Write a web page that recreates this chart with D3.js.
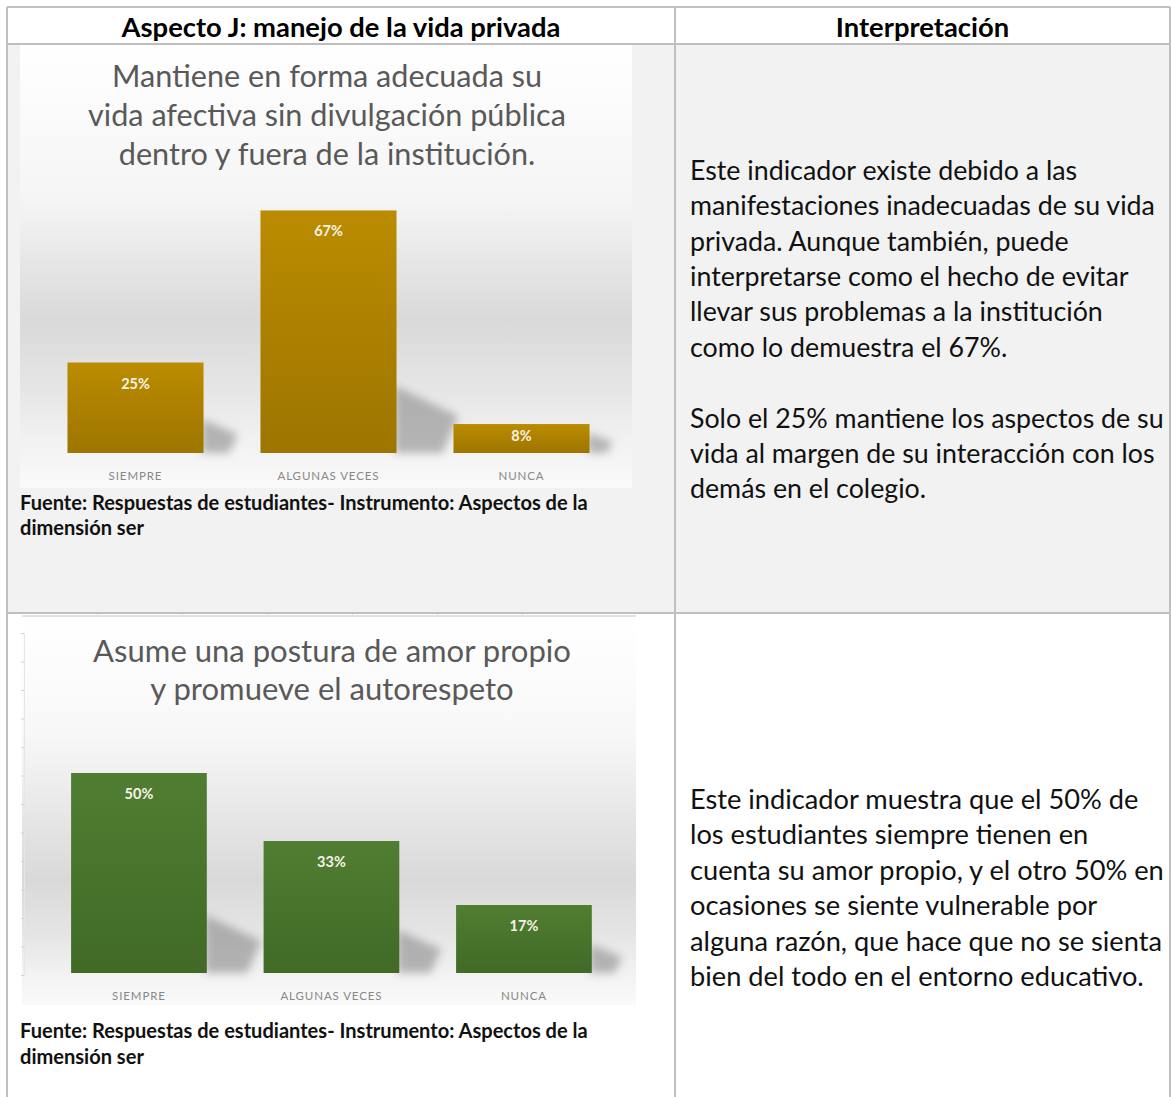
<!DOCTYPE html>
<html>
<head>
<meta charset="utf-8">
<script src="https://cdn.jsdelivr.net/npm/d3@7"></script>
<style>
  body { margin: 0; background: #fff; }
  svg text { font-family: Lato, "Open Sans", sans-serif; }
</style>
</head>
<body>
<svg id="page"></svg>
<script>
// ---- data ----
const categories = ["SIEMPRE", "ALGUNAS VECES", "NUNCA"];
const privacyValues = [25, 67, 8];
const selfLoveValues = [50, 33, 17];

const headerLabels = ["Aspecto J: manejo de la vida privada", "Interpretación"];
const privacyTitle = [
  "Mantiene en forma adecuada su",
  "vida afectiva sin divulgación pública",
  "dentro y fuera de la institución."
];
const selfLoveTitle = ["Asume una postura de amor propio", "y promueve el autorespeto"];
const sourceLines = [
  "Fuente: Respuestas de estudiantes- Instrumento: Aspectos de la",
  "dimensión ser"
];
const privacyText = [
  "Este indicador existe debido a las",
  "manifestaciones inadecuadas de su vida",
  "privada. Aunque también, puede",
  "interpretarse como el hecho de evitar",
  "llevar sus problemas a la institución",
  "como lo demuestra el 67%.",
  "",
  "Solo el 25% mantiene los aspectos de su",
  "vida al margen de su interacción con los",
  "demás en el colegio."
];
const selfLoveText = [
  "Este indicador muestra que el 50% de",
  "los estudiantes siempre tienen en",
  "cuenta su amor propio, y el otro 50% en",
  "ocasiones se siente vulnerable por",
  "alguna razón, que hace que no se sienta",
  "bien del todo en el entorno educativo."
];

const W = 1171, H = 1097;
const svg = d3.select("#page").attr("width", W).attr("height", H);
const defs = svg.append("defs");

// font size so that the widest of the strings gets the target width
function fitSize(strs, weight, target) {
  let widest = 0;
  [].concat(strs).forEach(s => {
    const t = svg.append("text").attr("font-weight", weight).attr("font-size", 100).text(s);
    widest = Math.max(widest, t.node().getComputedTextLength());
    t.remove();
  });
  return 100 * target / widest;
}

// ---- table ----
const table = { left: 7, right: 1170, top: 7, headBottom: 44, colX: 675, rowY: 613 };
const lineColor = "#bfbfbf";

svg.append("rect")
  .attr("x", table.left).attr("y", table.headBottom)
  .attr("width", table.right - table.left).attr("height", table.rowY - table.headBottom)
  .attr("fill", "#f2f2f2");

// ---- chart drawing ----
function drawChart(cfg) {
  const g = svg.append("g");

  const bg = defs.append("linearGradient").attr("id", cfg.id + "-bg")
    .attr("x1", 0).attr("y1", 0).attr("x2", 0).attr("y2", 1);
  cfg.bgStops.forEach(s => bg.append("stop").attr("offset", s[0]).attr("stop-color", s[1]));

  g.append("rect")
    .attr("x", cfg.box.x).attr("y", cfg.box.y)
    .attr("width", cfg.box.w).attr("height", cfg.box.h)
    .attr("fill", `url(#${cfg.id}-bg)`);

  // faint leftover axis ticks on the picture's edges
  if (cfg.edgeTicks) {
    const left = d3.scaleLinear().domain([0, 12]).range([cfg.yBottom + 2, cfg.yBottom + 2 - 12 * 28.5]);
    g.append("g")
      .attr("transform", `translate(${cfg.box.x + 2},0)`)
      .call(d3.axisLeft(left).ticks(12).tickSize(3).tickFormat(""))
      .call(a => a.select(".domain").attr("stroke", "#e6e6e6"))
      .call(a => a.selectAll(".tick line").attr("stroke", "#d2d2d2"));
    const top = d3.scaleLinear().domain([0, 5]).range([cfg.box.x + 75, cfg.box.x + 75 + 5 * 85]);
    g.append("g")
      .attr("transform", `translate(0,${cfg.box.y + 1})`)
      .call(d3.axisTop(top).ticks(5).tickSize(3).tickFormat(""))
      .call(a => a.select(".domain").remove())
      .call(a => a.selectAll(".tick line").attr("stroke", "#dcdcdc"));
    g.append("line")
      .attr("x1", cfg.box.x).attr("x2", cfg.box.x + cfg.box.w)
      .attr("y1", cfg.box.y + 1).attr("y2", cfg.box.y + 1)
      .attr("stroke", "#e2e2e2").attr("stroke-width", 2);
  }

  const x = d3.scaleBand().domain(categories)
    .range(cfg.xRange).paddingInner(0.295).paddingOuter(0.1475);
  const y = d3.scaleLinear().domain([0, 100]).range([cfg.yBottom, cfg.yBottom - 100 * cfg.pxPerPct]);

  // title
  const tSize = fitSize(cfg.title[cfg.titleRef], 400, cfg.titleWidth);
  g.append("g").selectAll("text").data(cfg.title).join("text")
    .attr("x", cfg.titleX)
    .attr("y", (d, i) => cfg.titleY[i] + tSize * 0.33)
    .attr("text-anchor", "middle")
    .attr("font-size", tSize)
    .attr("fill", "#595959")
    .text(d => d);

  // shadows
  const blur = defs.append("filter").attr("id", cfg.id + "-blur")
    .attr("x", "-50%").attr("y", "-50%").attr("width", "200%").attr("height", "200%");
  blur.append("feGaussianBlur").attr("stdDeviation", 4);

  const rows = categories.map((c, i) => ({ cat: c, value: cfg.values[i] }));

  g.append("g").selectAll("path").data(rows).join("path")
    .attr("filter", `url(#${cfg.id}-blur)`)
    .attr("fill", "#777")
    .attr("opacity", 0.5)
    .attr("d", d => {
      const R = x(d.cat) + x.bandwidth();
      const B = y(0);
      const h = B - y(d.value);
      const up = 14 + 0.22 * h;
      const ext = 18 + 0.18 * h;
      return d3.line()([[R - 2, B], [R - 2, B - up], [R + ext, B - up * 0.55], [R + ext * 0.75, B]]) + "Z";
    });

  // bars
  const grad = defs.append("linearGradient").attr("id", cfg.id + "-bar")
    .attr("x1", 0).attr("y1", 0).attr("x2", 0).attr("y2", 1);
  grad.append("stop").attr("offset", 0).attr("stop-color", cfg.colors[0]);
  grad.append("stop").attr("offset", 1).attr("stop-color", cfg.colors[1]);

  g.append("g").selectAll("rect").data(rows).join("rect")
    .attr("x", d => x(d.cat))
    .attr("y", d => y(d.value))
    .attr("width", x.bandwidth())
    .attr("height", d => y(0) - y(d.value))
    .attr("fill", `url(#${cfg.id}-bar)`);

  // value labels
  g.append("g").selectAll("text").data(rows).join("text")
    .attr("x", d => x(d.cat) + x.bandwidth() / 2)
    .attr("y", d => y(d.value) + Math.min(21, (y(0) - y(d.value)) * 0.42) + 5)
    .attr("text-anchor", "middle")
    .attr("font-size", 14.5)
    .attr("font-weight", 700)
    .attr("fill", "#f7f2e6")
    .text(d => d.value + "%");

  // category labels
  g.append("g").selectAll("text").data(categories).join("text")
    .attr("x", d => x(d) + x.bandwidth() / 2)
    .attr("y", cfg.catY + 4.5)
    .attr("text-anchor", "middle")
    .attr("font-size", 11.5)
    .attr("letter-spacing", 0.9)
    .attr("fill", "#878787")
    .text(d => d);

  // source note
  const sSize = fitSize(sourceLines[0], 700, 568);
  g.append("g").selectAll("text").data(sourceLines).join("text")
    .attr("x", 20)
    .attr("y", (d, i) => cfg.sourceY[i] + sSize * 0.35)
    .attr("font-size", sSize)
    .attr("font-weight", 700)
    .attr("fill", "#111")
    .text(d => d);
}

drawChart({
  id: "privacy",
  values: privacyValues,
  box: { x: 20, y: 45, w: 612, h: 443 },
  bgStops: [[0, "#ffffff"], [0.35, "#f5f5f5"], [0.62, "#d9d9d9"], [0.78, "#e6e6e6"], [0.9, "#f2f2f2"], [1, "#fafafa"]],
  xRange: [39, 618],
  yBottom: 453,
  pxPerPct: 3.62,
  colors: ["#bb8c00", "#9d7500"],
  title: privacyTitle, titleRef: 1, titleWidth: 478, titleX: 327,
  titleY: [77, 116, 155],
  catY: 475,
  sourceY: [503, 528],
  edgeTicks: false
});

drawChart({
  id: "selflove",
  values: selfLoveValues,
  box: { x: 22, y: 615, w: 614, h: 390 },
  bgStops: [[0, "#ffffff"], [0.3, "#f8f8f8"], [0.68, "#d9d9d9"], [0.82, "#e5e5e5"], [0.92, "#f2f2f2"], [1, "#fafafa"]],
  xRange: [42.7, 620.2],
  yBottom: 973,
  pxPerPct: 4.0,
  colors: ["#507e31", "#406a26"],
  title: selfLoveTitle, titleRef: 0, titleWidth: 478, titleX: 332,
  titleY: [652, 690],
  catY: 995,
  sourceY: [1031, 1057],
  edgeTicks: true
});

// ---- header ----
const hSize = fitSize(headerLabels[0], 700, 439);
svg.append("g").selectAll("text").data(headerLabels).join("text")
  .attr("x", (d, i) => i === 0 ? (table.left + table.colX) / 2 : (table.colX + table.right) / 2)
  .attr("y", 27 + hSize * 0.35)
  .attr("text-anchor", "middle")
  .attr("font-size", hSize)
  .attr("font-weight", 700)
  .attr("fill", "#000")
  .text(d => d);

// ---- interpretation text ----
function drawParagraph(lines, firstY, step) {
  const size = fitSize(lines, 400, 474);
  svg.append("g").selectAll("text").data(lines).join("text")
    .attr("x", 690)
    .attr("y", (d, i) => firstY + i * step + size * 0.33)
    .attr("font-size", size)
    .attr("fill", "#111")
    .text(d => d);
}
drawParagraph(privacyText, 171, 35.4);
drawParagraph(selfLoveText, 800, 35.4);

// ---- borders ----
const borders = svg.append("g").attr("stroke", lineColor).attr("stroke-width", 2);
borders.append("line").attr("x1", table.left).attr("x2", table.right).attr("y1", table.top).attr("y2", table.top);
borders.append("line").attr("x1", table.left).attr("x2", table.right).attr("y1", table.headBottom).attr("y2", table.headBottom);
borders.append("line").attr("x1", table.left).attr("x2", table.right).attr("y1", table.rowY).attr("y2", table.rowY);
borders.append("line").attr("x1", table.left).attr("x2", table.left).attr("y1", table.top).attr("y2", H);
borders.append("line").attr("x1", table.colX).attr("x2", table.colX).attr("y1", table.top).attr("y2", H);
borders.append("line").attr("x1", table.right).attr("x2", table.right).attr("y1", table.top).attr("y2", H);
</script>
</body>
</html>
